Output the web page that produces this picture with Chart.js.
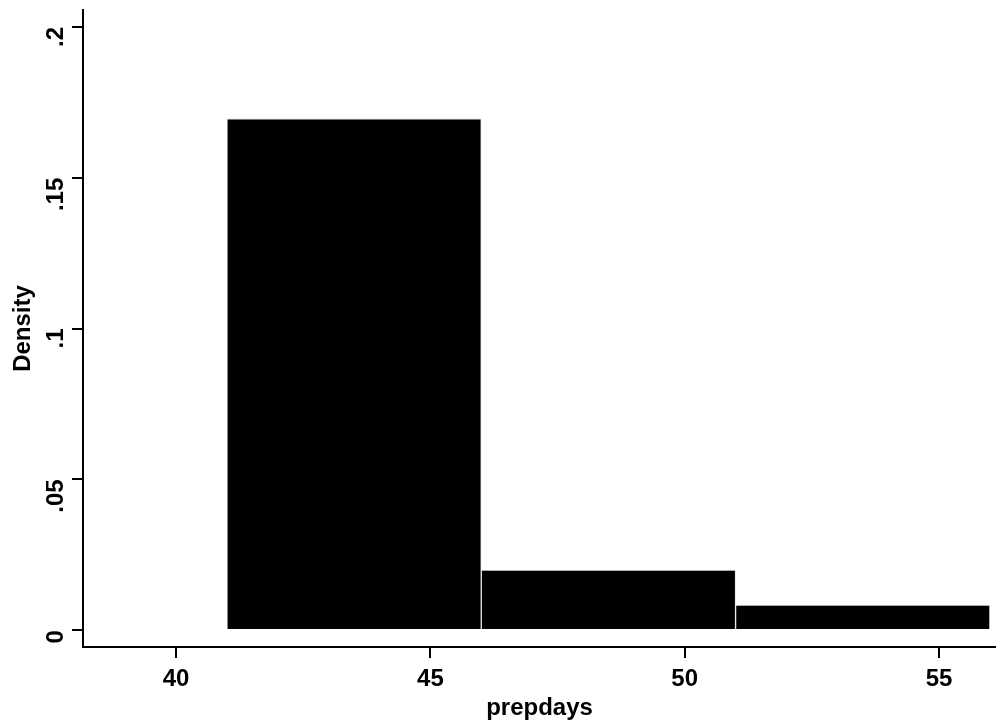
<!DOCTYPE html>
<html>
<head>
<meta charset="utf-8">
<script src="https://cdn.jsdelivr.net/npm/chart.js@4"></script>
<style>
  html, body { margin: 0; padding: 0; background: #fff; }
  #wrap { width: 996px; height: 723px; }
</style>
</head>
<body>
<div id="wrap"><canvas id="hist"></canvas></div>
<script>
// histogram bins (prepdays, width 5) and their density
const binStarts = [41, 46, 51]
const binWidth = 5
const density = [0.1695, 0.0199, 0.0083]

const xTicks = [40, 45, 50, 55]
const yTicks = [0, 0.05, 0.1, 0.15, 0.2]
const yTickLabels = ['0', '.05', '.1', '.15', '.2']

const font = { family: 'Liberation Sans, Arial, sans-serif', size: 24, weight: 'bold', lineHeight: 1 }

let ctx = document.getElementById('hist').getContext('2d')

let histChart = new Chart(ctx, {
    type: 'bar',
    data: {
        datasets: [
            {
                data: binStarts.map((start, i) => ({ x: start + binWidth / 2, y: density[i] })),
                backgroundColor: '#000',
                borderColor: '#e6e6e6',
                borderWidth: 1,
                barPercentage: 1,
                categoryPercentage: 1
            }
        ]
    },
    options: {
        responsive: true,
        maintainAspectRatio: false,
        animation: false,
        layout: { padding: 0 },
        plugins: { legend: { display: false }, tooltip: { enabled: false } },
        scales: {
            x: {
                type: 'linear',
                offset: false,
                min: 38.17,
                max: 56.12,
                afterBuildTicks: axis => { axis.ticks = xTicks.map(v => ({ value: v })) },
                afterFit: axis => { axis.height = 76; axis.paddingLeft = 0; axis.paddingRight = 0 },
                grid: { offset: false, drawOnChartArea: false, drawTicks: true, tickLength: 11, color: '#000', lineWidth: 2 },
                border: { color: '#000', width: 2 },
                ticks: { color: '#000', font: font, padding: 9, maxRotation: 0 },
                title: { display: true, text: 'prepdays', color: '#000', font: font, padding: { top: 0, bottom: 3 } }
            },
            y: {
                type: 'linear',
                min: -0.0056,
                max: 0.2056,
                afterBuildTicks: axis => { axis.ticks = yTicks.map(v => ({ value: v })) },
                afterFit: axis => { axis.width = 83; axis.paddingTop = 10; axis.paddingBottom = 0 },
                grid: { drawOnChartArea: false, drawTicks: true, tickLength: 11, color: '#000', lineWidth: 2 },
                border: { color: '#000', width: 2 },
                ticks: {
                    color: '#000',
                    font: font,
                    padding: 16,
                    minRotation: 90,
                    maxRotation: 90,
                    callback: value => yTickLabels[yTicks.indexOf(value)]
                },
                title: { display: true, text: 'Density', color: '#000', font: font, padding: { top: 11, bottom: 0 } }
            }
        }
    }
})
</script>
</body>
</html>
